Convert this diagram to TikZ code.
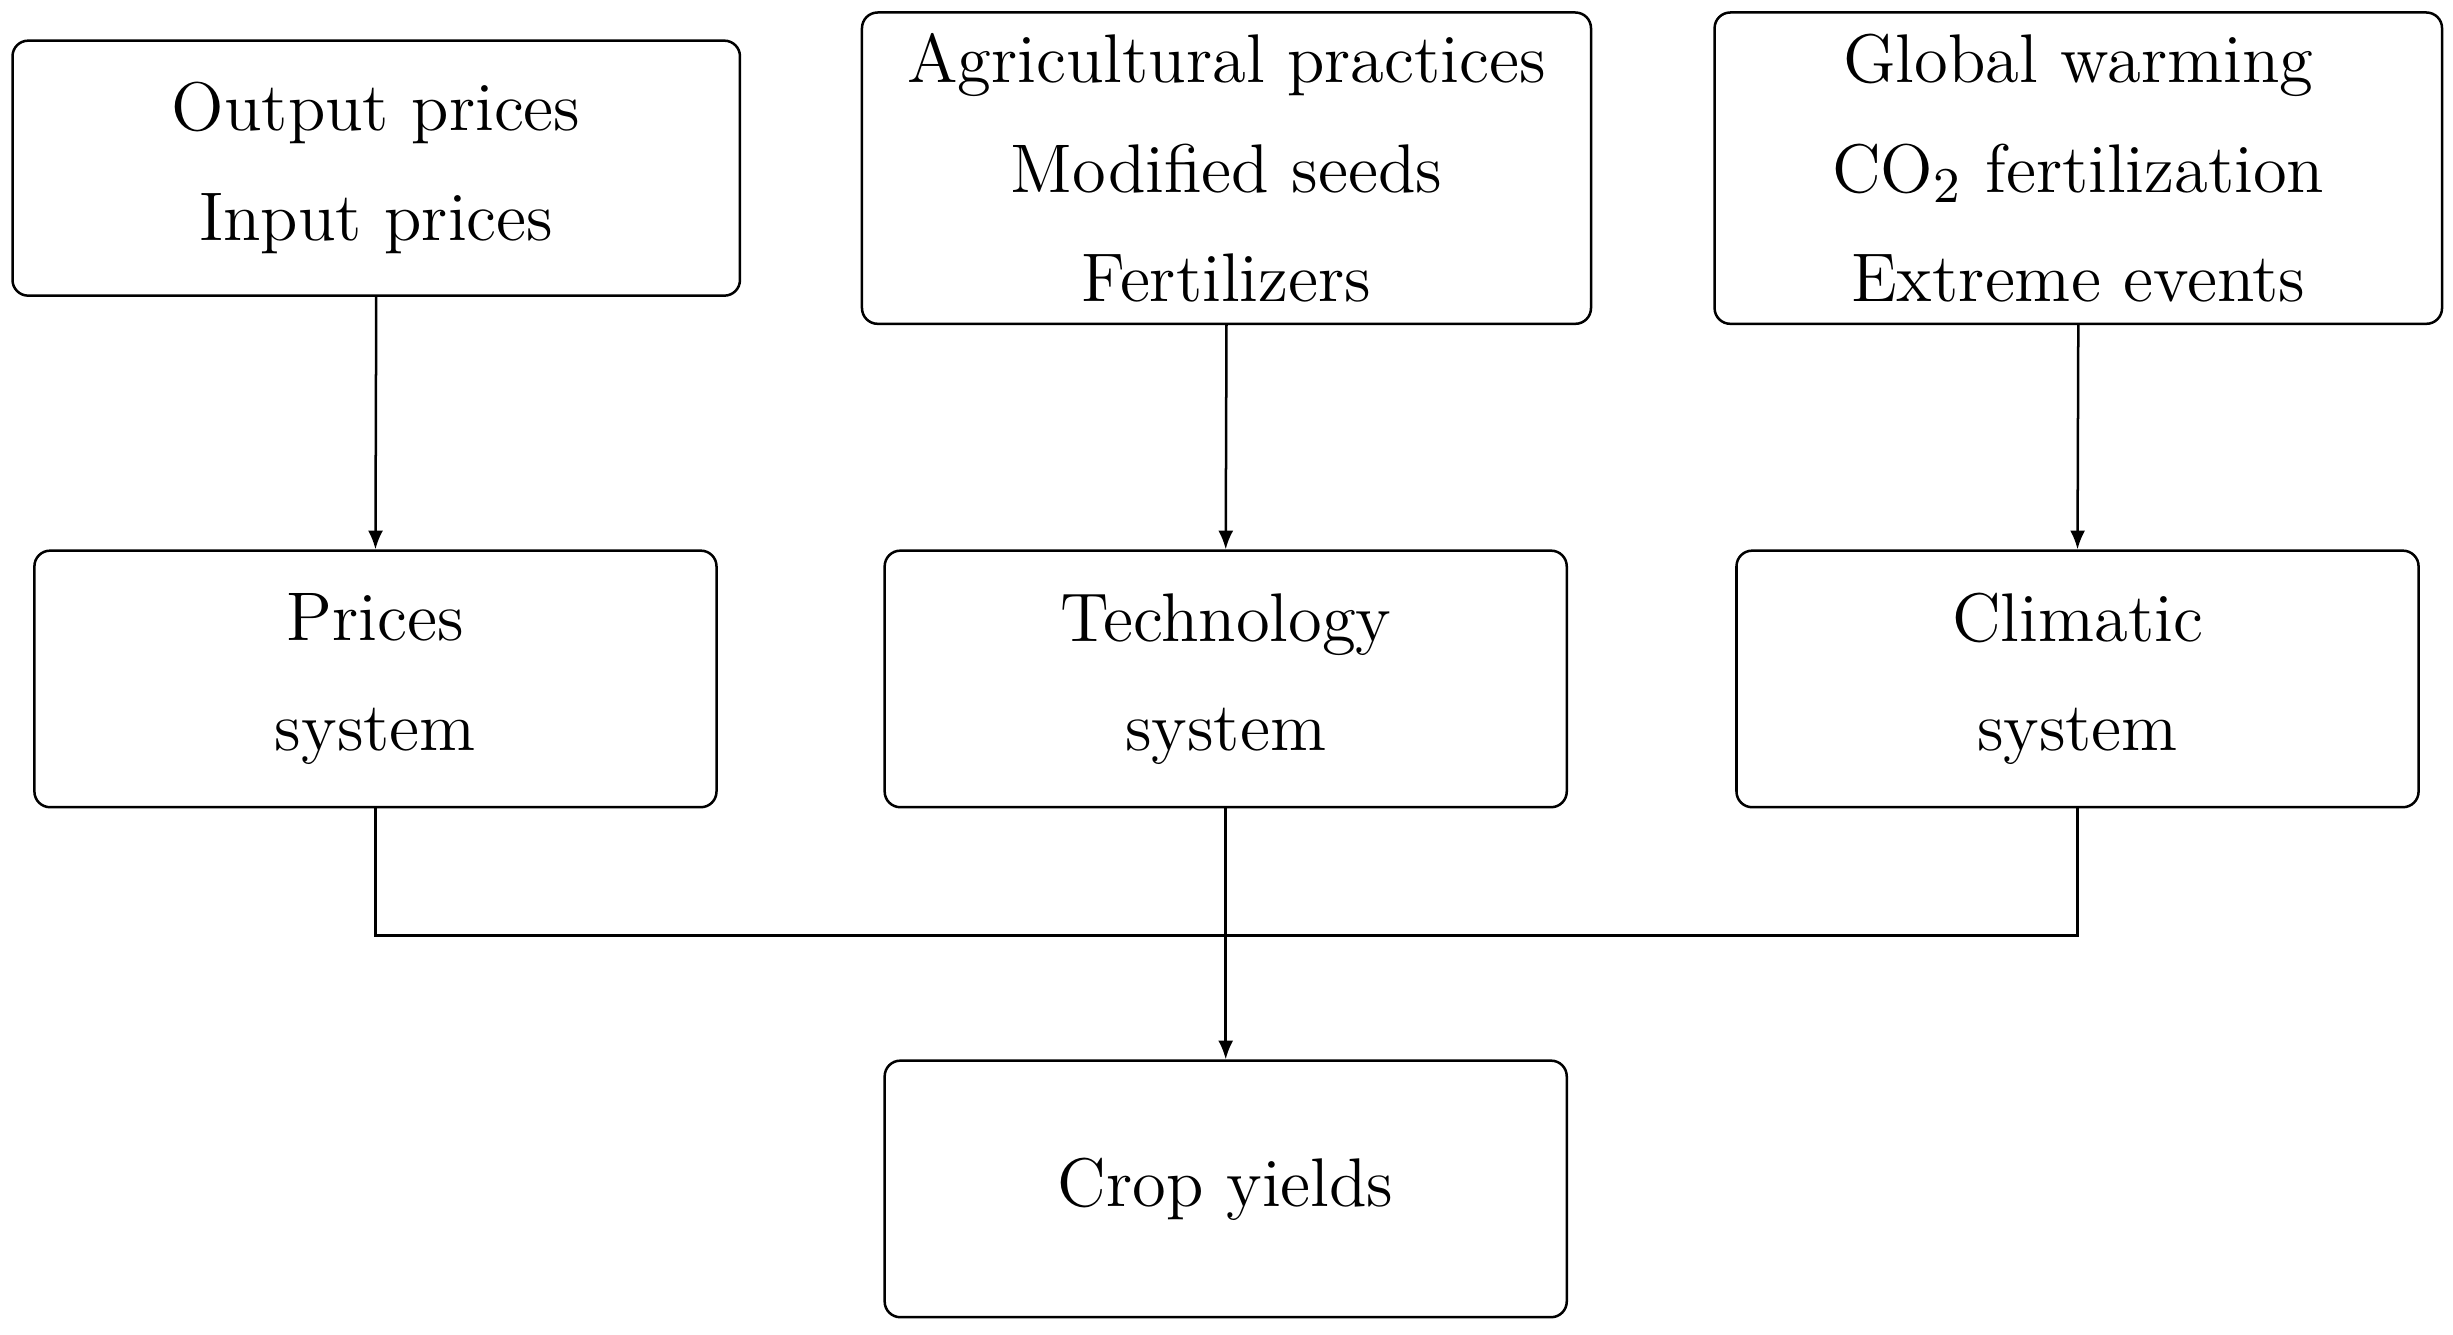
\documentclass[tikz,border=0pt]{standalone}
\usetikzlibrary{arrows.meta}
\begin{document}
\begin{tikzpicture}[x=0.25pt,y=-0.25pt,
  box/.style={draw,rounded corners=2.5pt,line width=0.4pt,align=center,inner sep=0pt,font=\fontsize{11}{17.5}\selectfont},
  arr/.style={line width=0.4pt,-{Latex[length=3pt,width=2.4pt]}},
  ln/.style={line width=0.4pt}]
\useasboundingbox (0,0) rectangle (1568,853);
\node[box,minimum width=116.25pt,minimum height=40.75pt] (ip) at (240.5,107.5) {Output prices\\Input prices};
\node[box,minimum width=116.5pt,minimum height=49.75pt] (tp) at (784,107.5) {Agricultural practices\\Modified seeds\\Fertilizers};
\node[box,minimum width=116.25pt,minimum height=49.75pt] (cp) at (1328.5,107.5) {Global warming\\CO$_2$ fertilization\\Extreme events};
\node[box,minimum width=109pt,minimum height=41pt] (ps) at (240,434) {Prices\\system};
\node[box,minimum width=109pt,minimum height=41pt] (ts) at (783.5,434) {Technology\\system};
\node[box,minimum width=109pt,minimum height=41pt] (cs) at (1328,434) {Climatic\\system};
\node[box,minimum width=109pt,minimum height=41pt] (cy) at (783.5,760) {Crop yields};
\coordinate (j) at (783.5,598);
\draw[arr] (ip.south) -- (ps.north);
\draw[arr] (tp.south) -- (ts.north);
\draw[arr] (cp.south) -- (cs.north);
\draw[ln] (ps.south) |- (j);
\draw[ln] (cs.south) |- (j);
\draw[arr] (ts.south) -- (cy.north);
\end{tikzpicture}
\end{document}
